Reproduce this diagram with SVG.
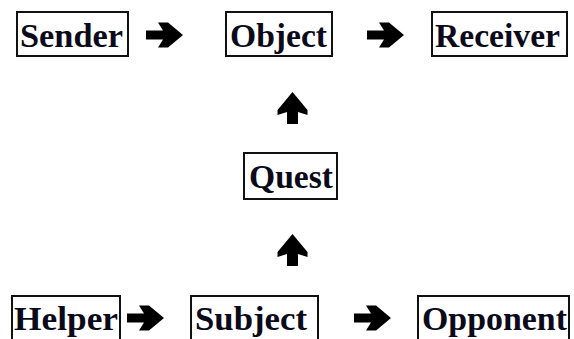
<svg xmlns="http://www.w3.org/2000/svg" width="574" height="339" viewBox="0 0 574 339">
<style>
.box{fill:#fff;stroke:#111;stroke-width:2}
.lbl{font-family:"Liberation Serif","Times New Roman",serif;font-weight:bold;font-size:33px;fill:#0a0a1a}
.arr{fill:#000}
</style>
<defs>
<path id="ah" d="M0,-4.5 L17,-4.5 L12,-12.5 L22,-12.5 L37,0 L22,12.5 L12,12.5 L17,4.5 L0,4.5 Z"/>
<path id="av" d="M-5.5,0 L-5.5,-12 L-15,-9 L-15,-14 L0,-32 L15,-14 L15,-9 L5.5,-12 L5.5,0 Z"/>
</defs>
<rect width="574" height="339" fill="#fff"/>
<g id="sender"><rect class="box" x="17" y="12" width="111" height="44"/><text class="lbl" x="20" y="47" textLength="103" lengthAdjust="spacingAndGlyphs">Sender</text></g>
<g id="object"><rect class="box" x="226" y="12" width="106" height="44"/><text class="lbl" x="230" y="47" textLength="97" lengthAdjust="spacingAndGlyphs">Object</text></g>
<g id="receiver"><rect class="box" x="432" y="12" width="135" height="44"/><text class="lbl" x="435" y="47" textLength="125" lengthAdjust="spacingAndGlyphs">Receiver</text></g>
<g id="quest"><rect class="box" x="244" y="153" width="93" height="46"/><text class="lbl" x="249" y="188" textLength="84" lengthAdjust="spacingAndGlyphs">Quest</text></g>
<g id="helper"><rect class="box" x="12" y="296" width="108" height="46"/><text class="lbl" x="14" y="330" textLength="104" lengthAdjust="spacingAndGlyphs">Helper</text></g>
<g id="subject"><rect class="box" x="191" y="296" width="127" height="46"/><text class="lbl" x="195" y="330" textLength="112" lengthAdjust="spacingAndGlyphs">Subject</text></g>
<g id="opponent"><rect class="box" x="418" y="296" width="151" height="46"/><text class="lbl" x="422" y="330" textLength="145" lengthAdjust="spacingAndGlyphs">Opponent</text></g>
<g id="connectors" class="arr">
<use href="#ah" x="146" y="35"/>
<use href="#ah" x="367" y="35"/>
<use href="#av" x="292.5" y="124"/>
<use href="#av" x="292.5" y="266"/>
<use href="#ah" x="127" y="318"/>
<use href="#ah" x="354" y="318"/>
</g>
</svg>
